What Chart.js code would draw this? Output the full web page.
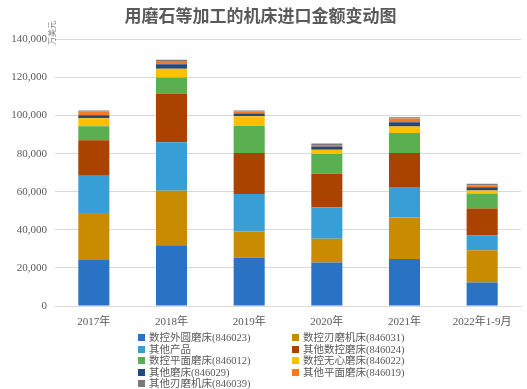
<!DOCTYPE html>
<html lang="zh">
<head>
<meta charset="UTF-8">
<script src="https://cdn.jsdelivr.net/npm/chart.js@4.4.0/dist/chart.umd.min.js"></script>
<style>
    body { margin: 0; background: #fff; }
    #wrap { position: relative; width: 527px; height: 389px; }
    #box { position: absolute; left: 0; top: 0; width: 527px; height: 330px; }
    #legenda { position: absolute; left: 0; top: 0; width: 527px; height: 389px; pointer-events: none;
        font-family: 'Liberation Serif', 'Noto Sans CJK SC', serif; font-size: 10.5px; color: #595959; }
    .item { position: absolute; white-space: nowrap; line-height: 11px; }
    .item span.q { display: inline-block; width: 7px; height: 7px; margin-right: 4px; vertical-align: 0px; }
</style>
<title>用磨石等加工的机床进口金额变动图</title>
</head>
<body>
<div id="wrap">
    <div id="box"><canvas id="grafico"></canvas></div>
    <div id="legenda"></div>
</div>
<script>
    // categorias (anos)
    var anos = ["2017年", "2018年", "2019年", "2020年", "2021年", "2022年1-9月"];

    // valores por série (万美元), de baixo para cima na pilha
    var waiYuan = [24200, 31900, 25300, 22800, 24700, 12300];   // 数控外圆磨床(846023)
    var renMo = [24600, 28600, 13800, 12500, 21800, 17000];     // 数控刃磨机床(846031)
    var qitaChanpin = [19600, 25500, 19700, 16600, 16000, 7700]; // 其他产品
    var qitaShukong = [18600, 25600, 21600, 17600, 17900, 14200]; // 其他数控磨床(846024)
    var pingMian = [7400, 8400, 14300, 10300, 10500, 7900];      // 数控平面磨床(846012)
    var wuXin = [4200, 4600, 4900, 2300, 3300, 1600];            // 数控无心磨床(846022)
    var qitaMo = [1600, 2400, 1500, 1600, 2300, 1600];           // 其他磨床(846029)
    var qitaPing = [1900, 1600, 1000, 900, 1900, 1000];          // 其他平面磨床(846019)
    var qitaRen = [500, 700, 500, 700, 700, 900];                // 其他刃磨机床(846039)

    var yTicks = [0, 20000, 40000, 60000, 80000, 100000, 120000, 140000];

    var nomes = ["数控外圆磨床(846023)", "数控刃磨机床(846031)", "其他产品", "其他数控磨床(846024)",
        "数控平面磨床(846012)", "数控无心磨床(846022)", "其他磨床(846029)", "其他平面磨床(846019)",
        "其他刃磨机床(846039)"];
    var series = [waiYuan, renMo, qitaChanpin, qitaShukong, pingMian, wuXin, qitaMo, qitaPing, qitaRen];
    var cores = ["#2A72C4", "#C98B00", "#389FD6", "#AA4200", "#5AAF50", "#FFC000", "#1D4B7D", "#F57A26", "#7A7A7A"];

    var fonteSerif = "'Liberation Serif', 'Noto Sans CJK SC', serif";

    var datasets = series.map(function (d, i) {
        return {
            label: nomes[i],
            data: d,
            backgroundColor: cores[i],
            borderWidth: 0,
            categoryPercentage: 1,
            barPercentage: 0.4
        };
    });

    // rótulo da unidade (vertical) ao lado do topo do eixo
    var unidade = {
        id: "unidade",
        afterDraw: function (chart) {
            var ctx = chart.ctx;
            ctx.save();
            ctx.translate(56, 45);
            ctx.rotate(-Math.PI / 2);
            ctx.font = "8px 'Noto Sans CJK SC'";
            ctx.fillStyle = "#7f7f7f";
            ctx.textAlign = "left";
            ctx.textBaseline = "bottom";
            ctx.fillText("万美元", 0, 0);
            ctx.restore();
        }
    };

    var ctx = document.getElementById("grafico").getContext("2d");
    new Chart(ctx, {
        type: "bar",
        data: { labels: anos, datasets: datasets },
        options: {
            responsive: true,
            maintainAspectRatio: false,
            animation: false,
            layout: { padding: { left: 0, right: 6, top: 0, bottom: 0 } },
            plugins: {
                legend: { display: false },
                tooltip: { enabled: false },
                title: {
                    display: true,
                    text: "用磨石等加工的机床进口金额变动图",
                    color: "#595959",
                    font: { size: 17, weight: "600", family: "'Noto Sans CJK SC', sans-serif" },
                    padding: { top: 5, bottom: 14 }
                }
            },
            scales: {
                x: {
                    stacked: true,
                    grid: { display: false },
                    border: { display: true, color: "#d9d9d9" },
                    ticks: { color: "#595959", font: { size: 11, family: fonteSerif }, padding: 2, maxRotation: 0 },
                    afterFit: function (s) { s.height = 24; }
                },
                y: {
                    stacked: true,
                    min: 0,
                    max: 140000,
                    afterBuildTicks: function (s) { s.ticks = yTicks.map(function (v) { return { value: v }; }); },
                    grid: { color: "#d9d9d9", drawTicks: false },
                    border: { display: false },
                    ticks: {
                        color: "#595959",
                        font: { size: 11, family: fonteSerif },
                        padding: 8,
                        callback: function (v) { return v.toLocaleString("en-US"); }
                    },
                    afterFit: function (s) { s.width = 55; }
                }
            }
        },
        plugins: [unidade]
    });

    // legenda em duas colunas
    var leg = document.getElementById("legenda");
    var colX = [138, 292];
    var rowY = [332, 343.5, 355, 366.5, 377.5];
    nomes.forEach(function (n, i) {
        var el = document.createElement("div");
        el.className = "item";
        el.style.left = colX[i % 2] + "px";
        el.style.top = rowY[Math.floor(i / 2)] + "px";
        el.innerHTML = '<span class="q" style="background:' + cores[i] + '"></span>' + n;
        leg.appendChild(el);
    });
</script>
</body>
</html>
